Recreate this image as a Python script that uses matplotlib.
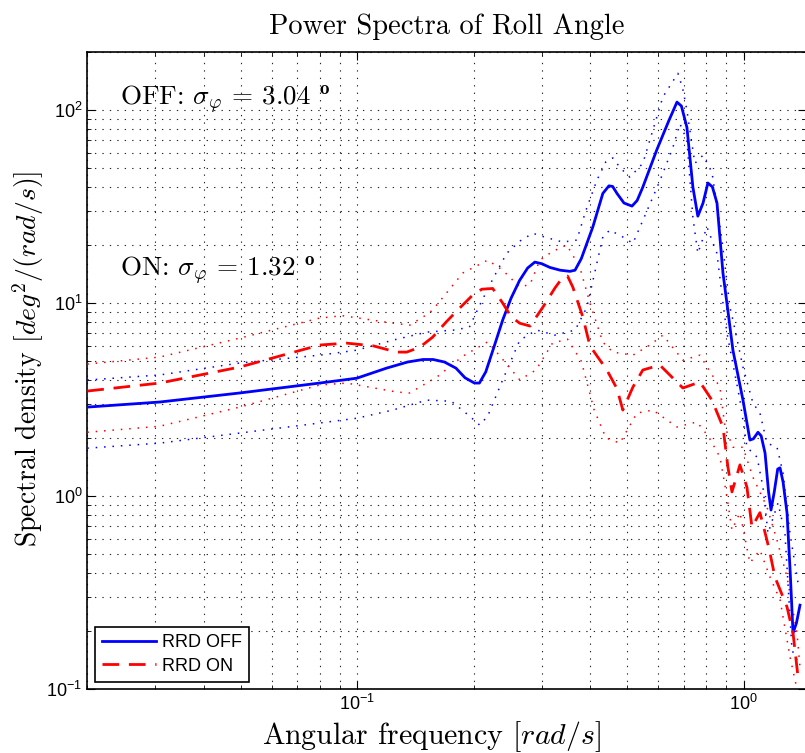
import numpy as np
import matplotlib
matplotlib.use("Agg")
import matplotlib.pyplot as plt

plt.rcParams['mathtext.fontset'] = 'custom'
plt.rcParams['mathtext.rm'] = 'Liberation Sans'
plt.rcParams['mathtext.it'] = 'Liberation Sans:italic'
plt.rcParams['font.family'] = ['Liberation Sans', 'DejaVu Sans']

# ---------------- data ----------------
off_f = [0.0200, 0.0308, 0.0496, 0.0799, 0.0997, 0.119, 0.135, 0.148, 0.157, 0.168, 0.180,
         0.190, 0.201, 0.207, 0.215, 0.225, 0.238, 0.250, 0.263, 0.276, 0.288, 0.300, 0.315,
         0.335, 0.355, 0.366, 0.380, 0.407, 0.432, 0.448, 0.458, 0.470, 0.490, 0.514, 0.530,
         0.548, 0.596, 0.640, 0.672, 0.690, 0.713, 0.739, 0.761, 0.785, 0.808, 0.830, 0.853,
         0.884, 0.905, 0.938, 0.996, 1.038, 1.060, 1.089, 1.110, 1.136, 1.160, 1.177, 1.200,
         1.225, 1.242, 1.265, 1.295, 1.320, 1.342, 1.370, 1.399]
off_v = [2.89, 3.07, 3.42, 3.85, 4.08, 4.6, 4.95, 5.1, 5.1, 4.95, 4.6,
         4.1, 3.85, 3.85, 4.4, 5.8, 8.2, 10.6, 13.1, 15.2, 16.3, 16.0, 15.3,
         14.8, 14.6, 14.8, 17.0, 24.8, 37.0, 40.5, 40.2, 37.0, 33.0, 31.8, 34.0,
         39.8, 62.3, 88.0, 110.0, 105.0, 81.4, 39.8, 28.2, 33.0, 41.9, 40.0, 33.0,
         14.3, 10.0, 5.7, 3.14, 1.95, 1.98, 2.14, 2.05, 1.67, 1.05, 0.846, 1.05,
         1.38, 1.40, 1.18, 0.816, 0.40, 0.195, 0.22, 0.272]

off_hi_f = [0.0200, 0.0308, 0.0496, 0.0799, 0.0997, 0.1235, 0.1512, 0.1787, 0.195, 0.2074, 0.225,
            0.2435, 0.2640, 0.2845, 0.305, 0.3402, 0.370, 0.390, 0.4169, 0.440, 0.4584, 0.480,
            0.5076, 0.5483, 0.6179, 0.6758, 0.695, 0.7128, 0.7478, 0.7845, 0.8278, 0.8787,
            0.9215, 0.9381, 0.9958, 1.057, 1.102, 1.149, 1.220, 1.264, 1.318, 1.383]
off_hi_v = [3.99, 4.24, 4.89, 5.37, 5.7, 6.42, 7.07, 7.25, 7.5, 9.76, 13.5,
            18.1, 21.0, 23.0, 22.0, 20.7, 21.2, 30.0, 43.3, 54.0, 56.5, 50.0,
            44.9, 53.0, 117.0, 155.0, 130.0, 100.0, 53.0, 58.3, 47.7, 21.2,
            9.5, 8.16, 4.66, 3.03, 2.69, 1.88, 1.79, 1.32, 0.64, 0.354]

off_lo_f = [0.0200, 0.0308, 0.0496, 0.0799, 0.0997, 0.1235, 0.1512, 0.175, 0.195, 0.2074, 0.2176,
            0.2378, 0.2633, 0.2913, 0.3244, 0.3664, 0.3927, 0.4320, 0.4503, 0.4867, 0.5168,
            0.5483, 0.6069, 0.6558, 0.6838, 0.7128, 0.7387, 0.7610, 0.8034, 0.8527, 0.8840,
            0.9052, 0.9781, 1.0198, 1.083, 1.122, 1.156, 1.227, 1.279, 1.334, 1.374]
off_lo_v = [1.77, 1.88, 2.12, 2.39, 2.53, 2.79, 3.14, 3.1, 2.6, 2.33, 2.6,
            4.0, 6.42, 7.25, 6.82, 7.25, 9.5, 22.0, 23.9, 22.0, 20.4,
            26.8, 43.0, 64.0, 85.0, 70.0, 27.9, 18.1, 24.8, 18.1, 10.0,
            7.0, 3.14, 1.79, 1.59, 1.11, 0.64, 0.92, 0.64, 0.159, 0.141]

on_f = [0.0200, 0.0308, 0.0496, 0.0799, 0.0938, 0.110, 0.1264, 0.1342, 0.1450, 0.1567, 0.1700,
        0.1819, 0.1989, 0.2100, 0.2241, 0.2378, 0.2500, 0.2633, 0.2800, 0.3020, 0.3250, 0.3402,
        0.3500, 0.3612, 0.3836, 0.4000, 0.4424, 0.4700, 0.4867, 0.5168, 0.5483, 0.6069,
        0.6637, 0.6962, 0.7705, 0.8278, 0.8840, 0.9106, 0.9326, 0.9781, 1.0198, 1.0507,
        1.102, 1.149, 1.170, 1.205, 1.295, 1.342, 1.383]
on_v = [3.5, 3.85, 4.66, 6.06, 6.2, 6.0, 5.57, 5.57, 5.9, 6.66, 8.0,
        9.2, 11.0, 11.8, 11.9, 10.0, 8.5, 7.86, 7.6, 9.5, 12.0, 13.6,
        13.8, 12.1, 8.45, 6.0, 4.5, 3.6, 2.79, 3.67, 4.5, 4.77,
        3.99, 3.63, 3.9, 3.14, 2.28, 1.41, 1.05, 1.45, 1.11, 0.69,
        0.82, 0.59, 0.506, 0.38, 0.266, 0.195, 0.115]

on_hi_f = [0.0200, 0.0308, 0.0496, 0.0799, 0.0916, 0.1235, 0.1366, 0.1539, 0.1605, 0.1874, 0.2176,
           0.2378, 0.2633, 0.2800, 0.2968, 0.3200, 0.3485, 0.3767, 0.4000, 0.4320, 0.4584,
           0.5168, 0.5718, 0.6179, 0.6962, 0.7705, 0.8130, 0.8682, 0.8946, 0.9381, 0.9958,
           1.057, 1.149, 1.220, 1.295, 1.374, 1.399]
on_hi_v = [4.83, 5.25, 6.58, 8.36, 8.6, 7.87, 7.68, 8.9, 9.77, 14.3, 16.7,
           14.8, 12.1, 12.5, 16.7, 18.5, 20.0, 15.3, 10.0, 6.27, 5.57,
           5.37, 6.06, 6.82, 5.06, 5.37, 4.5, 3.67, 2.28, 1.79, 1.79,
           1.25, 0.877, 0.59, 0.38, 0.195, 0.13]

on_lo_f = [0.0200, 0.0308, 0.0496, 0.0799, 0.0938, 0.1264, 0.1366, 0.1605, 0.1874, 0.2176, 0.2400,
           0.2633, 0.2900, 0.3200, 0.3500, 0.3800, 0.4100, 0.4400, 0.4781, 0.5293, 0.5821,
           0.6716, 0.7568, 0.8130, 0.8682, 0.9052, 0.9326, 0.9781, 1.038, 1.102, 1.170,
           1.242, 1.318, 1.374]
on_lo_v = [2.14, 2.3, 2.89, 3.76, 3.85, 3.46, 3.42, 4.13, 5.3, 6.3, 5.0,
           4.0, 4.5, 6.2, 6.5, 5.0, 2.8, 2.0, 1.88, 2.69, 2.79,
           2.28, 2.42, 2.02, 1.59, 0.99, 0.667, 0.82, 0.45, 0.525, 0.38,
           0.29, 0.147, 0.1]

legend_labels = ['RRD OFF', 'RRD ON']
title_text = 'Power Spectra of Roll Angle'
off_text = r'OFF: $\sigma_\varphi$ = 3.04 $^{\mathbf{o}}$'
on_text = r'ON: $\sigma_\varphi$ = 1.32 $^{\mathbf{o}}$'

# ---------------- figure ----------------
W, H = 805, 753
fig = plt.figure(figsize=(W / 100, H / 100), dpi=100)
x0, x1, y0, y1 = 87.3, 806.0, 52.0, 689.0
ax = fig.add_axes([x0 / W, 1 - y1 / H, (x1 - x0) / W, (y1 - y0) / H])
ax.set_xscale('log')
ax.set_yscale('log')

lw_main = 2.0
ax.plot(off_f, off_v, color='#0000ff', lw=lw_main, solid_joinstyle='round', zorder=5,
        label=legend_labels[0])
ax.plot(on_f, on_v, color='#ff0000', lw=lw_main, linestyle=(0, (6.0, 3.5)), zorder=5,
        label=legend_labels[1])
dot = (0, (1.0, 4.5))
ax.plot(off_hi_f, off_hi_v, color='#0000ff', lw=1.1, linestyle=dot, zorder=4)
ax.plot(off_lo_f, off_lo_v, color='#0000ff', lw=1.1, linestyle=dot, zorder=4)
ax.plot(on_hi_f, on_hi_v, color='#ff0000', lw=1.1, linestyle=dot, zorder=4)
ax.plot(on_lo_f, on_lo_v, color='#ff0000', lw=1.1, linestyle=dot, zorder=4)

ax.set_xlim(0.02, 1.45)
ax.set_ylim(0.1, 200)

ax.grid(True, which='both', linestyle=(0, (1.2, 5.5)), color='black', linewidth=0.8, alpha=0.85)
ax.tick_params(which='both', direction='in', top=True, right=True, labelsize=13)
ax.tick_params(which='major', length=6, width=0.8)
ax.tick_params(which='minor', length=3, width=0.6)
for sp in ax.spines.values():
    sp.set_linewidth(1.2)

fig.text(447 / W, 1 - 27 / H, title_text, fontfamily='cmr10', fontsize=20.5,
         ha='center', va='center')
fig.text(432 / W, 1 - 737 / H, r'Angular frequency $[rad/s]$', fontfamily='cmr10',
         math_fontfamily='cm', fontsize=21.5, ha='center', va='center')
fig.text(28 / W, 1 - 359 / H, r'Spectral density $[deg^2/(rad/s)]$', fontfamily='cmr10',
         math_fontfamily='cm', fontsize=20, ha='center', va='center', rotation=90)

ax.text((120 - x0) / (x1 - x0), (y1 - 100) / (y1 - y0), off_text, transform=ax.transAxes,
        fontfamily='cmr10', math_fontfamily='cm', fontsize=19.5, va='center', ha='left')
ax.text((120 - x0) / (x1 - x0), (y1 - 271) / (y1 - y0), on_text, transform=ax.transAxes,
        fontfamily='cmr10', math_fontfamily='cm', fontsize=19.5, va='center', ha='left')

leg = ax.legend(loc='lower left', bbox_to_anchor=((95 - x0) / (x1 - x0), (y1 - 682) / (y1 - y0)),
                borderaxespad=0, fancybox=False, edgecolor='black', framealpha=1,
                fontsize=13, handlelength=3.0, handletextpad=0.3, borderpad=0.4,
                labelspacing=0.35)
leg.get_frame().set_linewidth(1.2)

fig.savefig('out.png', dpi=100)
